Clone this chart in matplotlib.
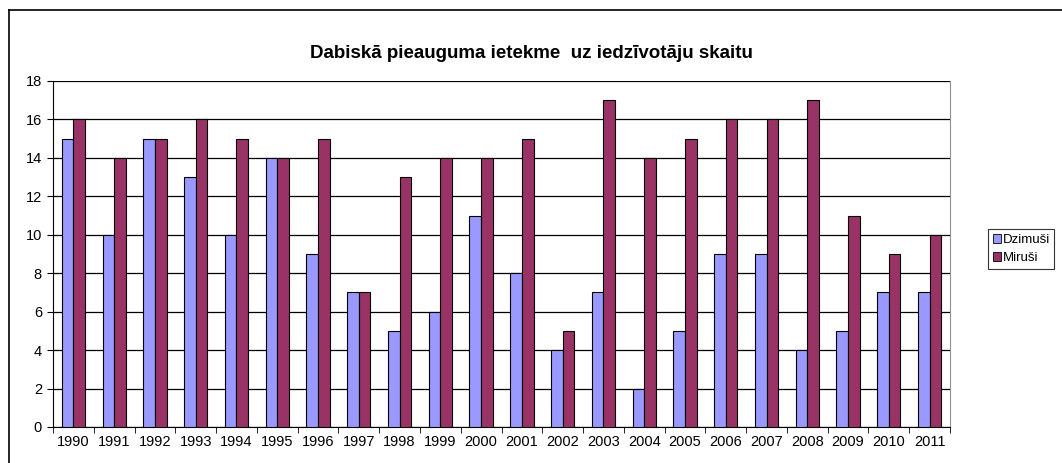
import matplotlib
matplotlib.use("Agg")
import matplotlib.pyplot as plt
import numpy as np
from matplotlib.lines import Line2D
from matplotlib.patches import Patch

years = ["1990", "1991", "1992", "1993", "1994", "1995", "1996", "1997", "1998", "1999", "2000",
         "2001", "2002", "2003", "2004", "2005", "2006", "2007", "2008", "2009", "2010", "2011"]
dzimusi = [15, 10, 15, 13, 10, 14, 9, 7, 5, 6, 11, 8, 4, 7, 2, 5, 9, 9, 4, 5, 7, 7]
mirusi = [16, 14, 15, 16, 15, 14, 15, 7, 13, 14, 14, 15, 5, 17, 14, 15, 16, 16, 17, 11, 9, 10]
title = "Dabiskā pieauguma ietekme  uz iedzīvotāju skaitu"
series_names = ["Dzimuši", "Miruši"]
colors = ["#9999FF", "#993366"]

plt.rcParams['font.family'] = ['Liberation Sans', 'DejaVu Sans']

W, H = 1062, 463
fig = plt.figure(figsize=(W / 100, H / 100), dpi=100)

# outer chart frame (left and top visible)
fig.add_artist(Line2D([9 / W, 9 / W], [0, 1 - 10 / H], transform=fig.transFigure, color="black", lw=1.2))
fig.add_artist(Line2D([9 / W, 1], [1 - 10 / H, 1 - 10 / H], transform=fig.transFigure, color="black", lw=1.2))

left, right, top, bottom = 53, 950, 81, 427
ax = fig.add_axes([left / W, 1 - bottom / H, (right - left) / W, (bottom - top) / H])

x = np.arange(len(years))
bw = 1 / 3.5
ax.bar(x - bw / 2, dzimusi, width=bw, color=colors[0], edgecolor="black", linewidth=0.8, zorder=3)
ax.bar(x + bw / 2, mirusi, width=bw, color=colors[1], edgecolor="black", linewidth=0.8, zorder=3)

ax.set_xlim(-0.5, len(years) - 0.5)
ax.set_ylim(0, 18)
ax.set_yticks(range(0, 19, 2))
ax.set_xticks(x)
ax.set_xticklabels(years)
ax.set_xticks(np.arange(-0.5, len(years), 1), minor=True)
ax.tick_params(axis="x", which="major", length=0, labelsize=10.5, pad=6)
ax.tick_params(axis="x", which="minor", length=4, direction="out", color="black")
ax.tick_params(axis="y", length=4, direction="out", labelsize=10.5, pad=4)
ax.yaxis.grid(True, color="black", lw=0.9, zorder=0)
ax.set_axisbelow(True)

ax.spines["top"].set_visible(False)
ax.spines["right"].set_color("#909090")
ax.spines["left"].set_color("black")
ax.spines["bottom"].set_color("black")

fig.text(531 / W, 1 - 53 / H, title, ha="center", va="center", fontsize=13.5, fontweight="bold")

handles = [Patch(facecolor=colors[0], edgecolor="black", lw=0.6),
           Patch(facecolor=colors[1], edgecolor="black", lw=0.6)]
leg = fig.legend(handles, series_names, loc="center left", bbox_to_anchor=(988 / W, 1 - 249 / H),
                 fontsize=9.5, frameon=True, fancybox=False, edgecolor="black",
                 handlelength=0.6, handleheight=0.6, handletextpad=0.15, borderpad=0.35,
                 labelspacing=0.45, borderaxespad=0)
leg.get_frame().set_linewidth(0.8)

fig.savefig("out.png", dpi=100)
